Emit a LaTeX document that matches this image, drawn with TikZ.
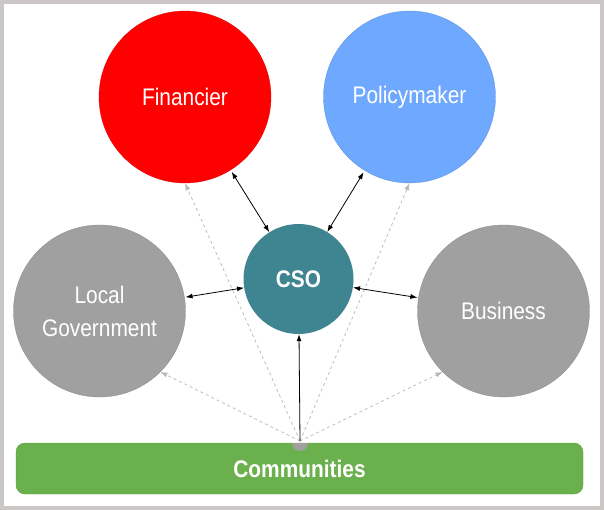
\documentclass[tikz,border=0pt]{standalone}
\usepackage{fontspec}
\setmainfont{Liberation Sans}
\newfontfamily\narrowsans[FakeStretch=0.87]{Liberation Sans}
\usetikzlibrary{arrows.meta}
\usetikzlibrary{positioning}
\definecolor{framegrey}{HTML}{CCC7C7}
\definecolor{finred}{HTML}{FF0000}
\definecolor{polblue}{HTML}{6FA8FF}
\definecolor{sidegrey}{HTML}{A0A0A0}
\definecolor{csoteal}{HTML}{3F8491}
\definecolor{comgreen}{HTML}{6AB04C}
\definecolor{comedge}{HTML}{5AA53A}
\definecolor{linkgrey}{HTML}{B8B8B8}

\begin{document}
\begin{tikzpicture}[x=1pt,y=-1pt,
  actor/.style={circle,minimum size=172pt,inner sep=0pt,text=white,
    font=\narrowsans\fontsize{24}{33}\selectfont,align=center,draw=#1!85!black,line width=0.3pt,fill=#1},
  hub/.style={circle,minimum size=110pt,inner sep=0pt,text=white,
    font=\narrowsans\fontsize{24}{28}\selectfont\bfseries,fill=csoteal},
  base/.style={rounded corners=9pt,minimum width=567pt,minimum height=51pt,
    fill=comgreen,draw=comedge,text=white,font=\narrowsans\fontsize{24}{28}\selectfont\bfseries},
  tie/.style={{Latex[length=7pt,width=5pt]}-{Latex[length=7pt,width=5pt]},line width=0.8pt},
  reach/.style={-{Latex[length=7pt,width=5pt]},linkgrey,dashed,line width=0.7pt}]
\fill[framegrey] (0,0) rectangle (604,510);
\fill[white] (4,4) rectangle (600,506);
\node (comm) [base] at (299.5,468.5) {Communities};
\node (cso) [hub] at (298.5,279) {CSO};
\node (fin) [actor=finred] at (185,97) {Financier};
\node (pol) [actor=polblue] at (409.5,97) {Policymaker};
\node (loc) [actor=sidegrey] at (99.5,311) {Local\\Government};
\node (bus) [actor=sidegrey] at (503.5,311) {Business};
\coordinate (src) at (300,441);
\fill[sidegrey] (292,443) arc (180:0:8) -- cycle;
\draw[reach] (src) -- (fin.south);
\draw[reach] (src) -- (pol.south);
\draw[reach] (src) -- (loc.south east);
\draw[reach] (src) -- (bus.south west);
\draw[-{Latex[length=7pt,width=5pt]},line width=0.8pt] (src) -- (cso);
\draw[tie,shorten <=2pt] (fin) -- (cso);
\draw[tie,shorten <=2pt] (pol) -- (cso);
\draw[tie,shorten <=1pt] (loc) -- (cso);
\draw[tie,shorten <=1pt] (bus) -- (cso);
\end{tikzpicture}
\end{document}
